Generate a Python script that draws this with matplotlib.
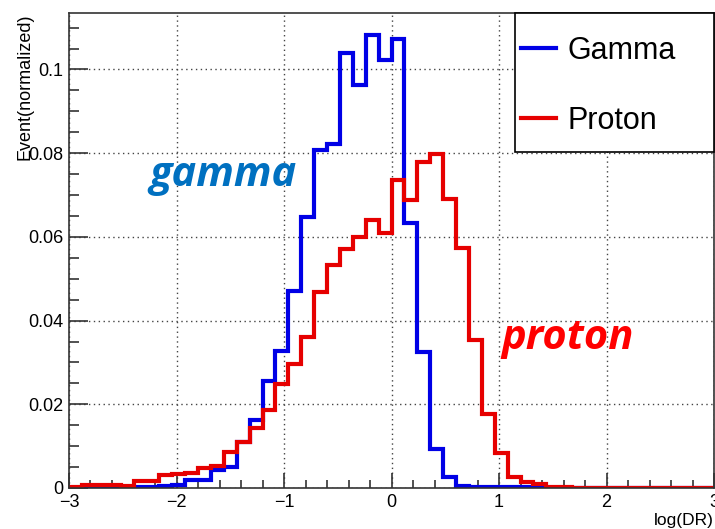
import numpy as np
import matplotlib
matplotlib.use("Agg")
import matplotlib.pyplot as plt
from matplotlib.patches import Rectangle
from matplotlib.ticker import MultipleLocator, FuncFormatter

# 50 bins of log(DR) from -3 to 3
edges = np.linspace(-3, 3, 51)

gamma = [0.0001, 0.0001, 0.0001, 0.0001, 0.0001, 0.0002, 0.0002, 0.0004, 0.0008, 0.002,
         0.002, 0.0044, 0.005, 0.011, 0.0163, 0.0256, 0.0328, 0.047, 0.0648, 0.0808,
         0.0822, 0.1039, 0.0962, 0.1082, 0.1023, 0.1073, 0.0633, 0.0324, 0.0093, 0.0027,
         0.0005, 0.0003, 0.0003, 0.0003, 0.0003, 0.0003, 0.0003, 0.0, 0.0, 0.0,
         0.0, 0.0, 0.0, 0.0, 0.0, 0.0, 0.0, 0.0, 0.0, 0.0]

proton = [0.0002, 0.0006, 0.0006, 0.0008, 0.0004, 0.0016, 0.0016, 0.003, 0.0033, 0.0036,
          0.0048, 0.0053, 0.0087, 0.011, 0.0143, 0.0187, 0.0248, 0.0296, 0.036, 0.0468,
          0.0533, 0.057, 0.060, 0.064, 0.061, 0.0736, 0.0688, 0.0778, 0.0798, 0.069,
          0.0573, 0.0354, 0.0177, 0.0084, 0.0027, 0.0015, 0.001, 0.0003, 0.0002, 0.0001,
          0.0001, 0.0001, 0.0001, 0.0001, 0.0001, 0.0001, 0.0001, 0.0001, 0.0001, 0.0001]

plt.rcParams['font.family'] = ['Liberation Sans', 'DejaVu Sans']

fig = plt.figure(figsize=(7.15, 5.29), dpi=100)
ax = fig.add_axes([69/715, 1 - 488/529, 645/715, 475/529])

ax.stairs(gamma, edges, baseline=None, color='#0000e6', lw=3, label='Gamma')
ax.stairs(proton, edges, baseline=None, color='#e60000', lw=3, label='Proton')

ax.set_xlim(-3, 3)
ax.set_ylim(0, 0.1135)

#ticks root style
ax.xaxis.set_major_locator(MultipleLocator(1))
ax.xaxis.set_minor_locator(MultipleLocator(0.2))
ax.yaxis.set_major_locator(MultipleLocator(0.02))
ax.yaxis.set_minor_locator(MultipleLocator(0.005))
ax.yaxis.set_major_formatter(FuncFormatter(lambda v, p: '%g' % round(v, 3)))
ax.tick_params(which='both', direction='in', labelsize=13, width=1.2, color='#333333')
ax.tick_params(axis='x', which='major', length=11, pad=4)
ax.tick_params(axis='x', which='minor', length=6)
ax.tick_params(axis='y', which='major', length=14, pad=4)
ax.tick_params(axis='y', which='minor', length=7)
for s in ax.spines.values():
    s.set_linewidth(1.2)
    s.set_color('#333333')

ax.grid(True, which='major', color='#444444', ls=(0, (1, 2.5)), lw=1)
ax.set_axisbelow(True)

fig.text(25/715, 1 - 13/529, 'Event(normalized)', rotation=90, ha='center', va='top', fontsize=13)
fig.text(714/715, 1 - 520/529, 'log(DR)', ha='right', va='center', fontsize=12.5)

# legend box like TLegend
box = Rectangle((0.6915, 0.7074), 0.3085, 0.2926, transform=ax.transAxes, facecolor='white',
                edgecolor='black', lw=1.2, zorder=4, clip_on=False)
ax.add_patch(box)
leg = ax.legend(loc='upper left', bbox_to_anchor=(0.7008, 0.952), fontsize=22, frameon=False,
                borderaxespad=0, borderpad=0, labelspacing=1.32, handlelength=1.15,
                handletextpad=0.36)
leg.set_zorder(5)

ax.text(-1.57, 0.0746, 'gamma', color='#0070c0', fontsize=30, fontweight='bold',
        fontstyle='italic', ha='center', va='center', family=['Open Sans', 'DejaVu Sans'])
ax.text(1.64, 0.0358, 'proton', color='#ff0000', fontsize=30, fontweight='bold',
        fontstyle='italic', ha='center', va='center', family=['Open Sans', 'DejaVu Sans'])

fig.savefig('out.png', dpi=100)
